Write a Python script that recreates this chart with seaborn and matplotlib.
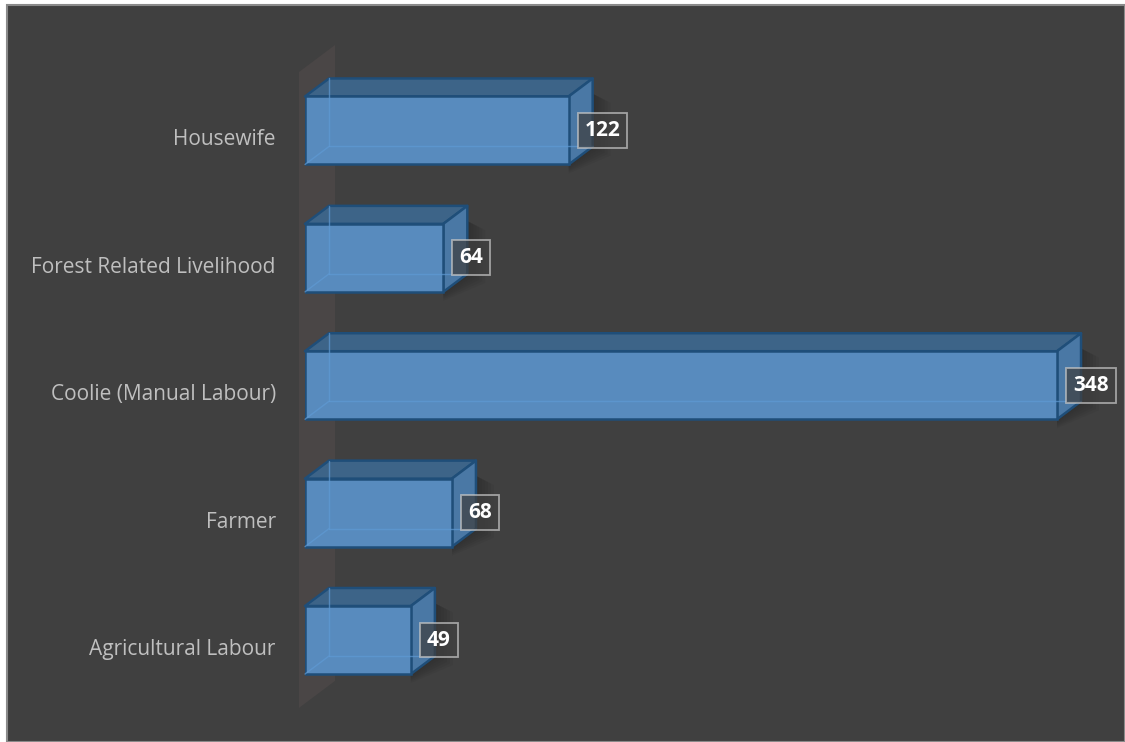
import matplotlib
matplotlib.use("Agg")
import matplotlib.pyplot as plt
import matplotlib.transforms as mtransforms
from matplotlib.patches import Polygon, Rectangle
import pandas as pd
import seaborn as sns

# Occupation counts
categories = ["Housewife", "Forest Related Livelihood", "Coolie (Manual Labour)",
              "Farmer", "Agricultural Labour"]
counts = [122, 64, 348, 68, 49]

df = pd.DataFrame({"occupation": categories, "count": counts})

BG = "#404040"
FRONT = "#588bbe"
TOP = "#3d6488"
SIDE = "#4a78a5"
EDGE = "#1f4e79"
WALL = "#4a4646"
LABEL = "#bfbfbf"

W, H = 1125, 742
DPI = 100
sns.set_theme(style="white")
plt.rcParams["font.family"] = ["Open Sans", "DejaVu Sans"]

fig = plt.figure(figsize=(W / DPI, H / DPI), dpi=DPI)
fig.patch.set_facecolor("white")
# chart area panel with thin grey border
fig.patches.append(Rectangle((7 / W, 0), 1 - 7 / W, 1 - 5 / H, transform=fig.transFigure,
                             facecolor=BG, edgecolor="#8a8a8a", linewidth=1.5, zorder=-10))

# axes rectangle (pixels): x 305..1110, y 5..737
ax = fig.add_axes([305 / W, 5 / H, (1110 - 305) / W, (737 - 5) / H])
ax.set_facecolor("none")

bar_h = 0.534
sns.barplot(data=df, x="count", y="occupation", orient="h", width=bar_h,
            color=FRONT, saturation=1, edgecolor=EDGE, linewidth=1.8, ax=ax, zorder=5)

px_per_unit = 2.161
cat_px = 127.4
ax.set_xlim(0, (1110 - 305) / px_per_unit)
ax.set_ylim(4 + (737 - 640) / cat_px, 0 - (130.5 - 5) / cat_px)

# depth offsets (pixels -> data units)
ddx = 24 / px_per_unit
ddy = -18 / cat_px

# side wall behind the category axis
wx0 = -6 / px_per_unit
wall_dx = 36 / px_per_unit
wall_dy = -27 / cat_px
wy_top, wy_bot = -0.459, 4.533
ax.add_patch(Polygon([(wx0, wy_bot), (wx0, wy_top), (wx0 + wall_dx, wy_top + wall_dy),
                      (wx0 + wall_dx, wy_bot + wall_dy)], closed=True, facecolor=WALL,
                     edgecolor="none", clip_on=False, zorder=1))

for i, v in enumerate(counts):
    y0, y1 = i - bar_h / 2, i + bar_h / 2  # y0 top edge, y1 bottom edge
    # soft shadow to the right of the block
    for k in range(6):
        g = (k + 1) * 3.0 / px_per_unit
        gy = (k + 1) * 1.5 / cat_px
        ax.add_patch(Polygon([(v + ddx, y0 + ddy + 0.12), (v + ddx + g, y0 + ddy + 0.12 + gy),
                              (v + ddx + g, y1 + ddy + gy), (v, y1 + gy), (v, y1)],
                             closed=True, facecolor="black", alpha=0.035, edgecolor="none",
                             clip_on=False, zorder=2))
    # faint back edges seen through the translucent block
    for xs, ys in (([ddx, ddx], [y0 + ddy, y1 + ddy]), ([0, ddx], [y1, y1 + ddy]),
                   ([ddx, v + ddx], [y1 + ddy, y1 + ddy])):
        ax.plot(xs, ys, color="#5f9ad4", lw=1.0, alpha=0.7, zorder=6, clip_on=False)
    # top face
    ax.add_patch(Polygon([(0, y0), (ddx, y0 + ddy), (v + ddx, y0 + ddy), (v, y0)], closed=True,
                         facecolor=TOP, edgecolor=EDGE, linewidth=1.8, joinstyle="round",
                         clip_on=False, zorder=4))
    # right side face
    ax.add_patch(Polygon([(v, y0), (v + ddx, y0 + ddy), (v + ddx, y1 + ddy), (v, y1)], closed=True,
                         facecolor=SIDE, edgecolor=EDGE, linewidth=1.8, joinstyle="round",
                         clip_on=False, zorder=4))
    # value label box
    ax.annotate(f"{v}", xy=(v, i), xytext=(16, 0), textcoords="offset pixels",
                ha="left", va="center", color="white", fontsize=15, fontweight="bold",
                bbox=dict(boxstyle="square,pad=0.33", facecolor=BG, alpha=0.72,
                          edgecolor="#c8c8c8", linewidth=1.3),
                zorder=8, annotation_clip=False)

ax.set_xlabel("")
ax.set_ylabel("")
ax.set_xticks([])
ax.tick_params(axis="y", length=0, pad=21, labelsize=15, labelcolor=LABEL)
shift = mtransforms.ScaledTranslation(0, -7 / DPI, fig.dpi_scale_trans)
for lab in ax.get_yticklabels():
    lab.set_transform(lab.get_transform() + shift)
for s in ax.spines.values():
    s.set_visible(False)

fig.savefig("out.png", dpi=DPI, facecolor=fig.get_facecolor())
